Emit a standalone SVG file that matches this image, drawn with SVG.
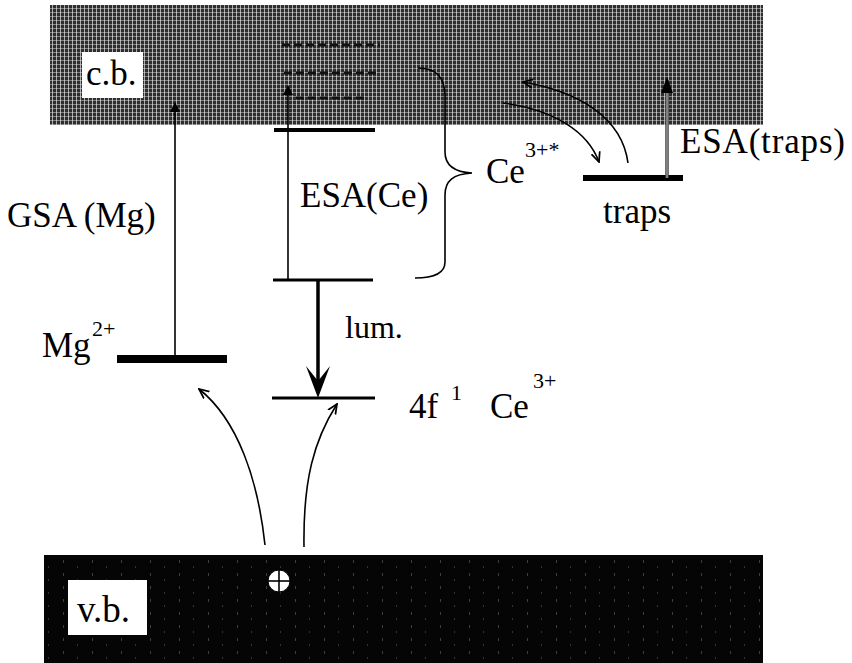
<svg xmlns="http://www.w3.org/2000/svg" width="852" height="663" viewBox="0 0 852 663">
<defs>
<pattern id="cbTex" width="4" height="4" patternUnits="userSpaceOnUse">
<rect width="4" height="4" fill="#2e2e2e"/>
<rect x="0" y="0" width="1" height="4" fill="#ffffff" opacity="0.6"/>
<rect x="0" y="0" width="4" height="1" fill="#ffffff" opacity="0.4"/>
</pattern>
<pattern id="vbTex" width="29" height="13" patternUnits="userSpaceOnUse">
<rect width="29" height="13" fill="#050505"/>
<rect x="5" y="1" width="1" height="3" fill="#777" opacity="0.5"/>
<rect x="19" y="7" width="1" height="2" fill="#777" opacity="0.4"/>
</pattern>
<marker id="solidHead" viewBox="0 0 10 10" refX="9" refY="5" markerWidth="10" markerHeight="10" markerUnits="userSpaceOnUse" orient="auto">
<path d="M0,0 L10,5 L0,10 Z" fill="#000"/>
</marker>
<marker id="openHead" viewBox="0 0 10 10" refX="9" refY="5" markerWidth="11" markerHeight="11" markerUnits="userSpaceOnUse" orient="auto">
<path d="M0,1 L9,5 L0,9" fill="none" stroke="#000" stroke-width="1.6"/>
</marker>
</defs>
<style>
text { font-family: "Liberation Serif", Tinos, "Times New Roman", Times, "Nimbus Roman", FreeSerif, "DejaVu Serif", serif; fill: #000; }
.lbl { font-size: 35px; }
.sup { font-size: 22px; }
.lvl { stroke: #000; fill: none; }
.thin { stroke: #000; stroke-width: 1.6; fill: none; }
.dash { stroke: #111; stroke-width: 3; stroke-dasharray: 8 4; fill: none; }
</style>

<g id="conduction-band">
<rect x="50" y="5" width="713" height="120" fill="url(#cbTex)"/>
<rect x="82" y="52" width="61" height="46" fill="#fff"/>
<text x="86" y="85" class="lbl">c.b.</text>
</g>

<g id="valence-band">
<rect x="44" y="555" width="719" height="108" fill="url(#vbTex)"/>
<rect x="68" y="580" width="79" height="55" fill="#fff"/>
<text x="77" y="622" class="lbl" style="font-size:37px">v.b.</text>
</g>

<g id="hole">
<circle cx="279" cy="581" r="11" fill="#fff" stroke="#000" stroke-width="1"/>
<line x1="279" y1="570" x2="279" y2="592" stroke="#000" stroke-width="1.6"/>
<line x1="268" y1="581" x2="290" y2="581" stroke="#000" stroke-width="1.6"/>
</g>

<g id="ce-dashed-levels">
<line x1="282" y1="45" x2="380" y2="45" class="dash"/>
<line x1="284" y1="73" x2="376" y2="73" class="dash"/>
<line x1="296" y1="98" x2="368" y2="98" class="dash"/>
</g>

<g id="mg-level">
<line x1="117" y1="359" x2="227" y2="359" class="lvl" stroke-width="8"/>
<text x="42" y="357" class="lbl">Mg</text>
<text x="92" y="336" class="sup">2+</text>
</g>

<g id="ce-upper-level">
<line x1="274" y1="130" x2="375" y2="130" class="lvl" stroke-width="4"/>
</g>

<g id="ce-excited-level">
<line x1="273" y1="280" x2="373" y2="280" class="lvl" stroke-width="3"/>
</g>

<g id="ce-ground-level">
<line x1="272" y1="398" x2="375" y2="398" class="lvl" stroke-width="3"/>
<text x="409" y="418" class="lbl">4f</text>
<text x="451" y="400" class="sup">1</text>
<text x="490" y="418" class="lbl">Ce</text>
<text x="533" y="388" class="sup">3+</text>
</g>

<g id="traps-level">
<line x1="583" y1="178" x2="683" y2="178" class="lvl" stroke-width="6"/>
<text x="603" y="223" class="lbl">traps</text>
</g>

<g id="ce-star-label">
<path d="M418,68 C437,68 445,78 445,96 L445,152 C445,165 453,172 472,173 C453,174 445,181 445,195 L445,262 C445,273 434,278 415,278" class="thin"/>
<text x="486" y="183" class="lbl">Ce</text>
<text x="525" y="157" class="sup">3+*</text>
</g>

<g id="connectors">
<line x1="175" y1="359" x2="175" y2="103" class="thin" marker-end="url(#solidHead)"/>
<line x1="288" y1="280" x2="288" y2="86" class="thin" marker-end="url(#solidHead)"/>
<line x1="318" y1="280" x2="318" y2="385" stroke="#000" stroke-width="3.5"/>
<path d="M318,398 L306,366 L318,381 L330,366 Z" fill="#000"/>
<line x1="667" y1="178" x2="667" y2="80" stroke="#444" stroke-width="3.5"/>
<line x1="667" y1="178" x2="667" y2="92" stroke="#bbb" stroke-width="1"/>
<path d="M667,77 L661,93 L673,93 Z" fill="#000"/>
<path d="M265,545 C258,480 238,420 199,389" class="thin" marker-end="url(#openHead)"/>
<path d="M304,547 C303,480 314,440 337,404" class="thin" marker-end="url(#openHead)"/>
<path d="M503,103 C555,110 588,132 599,162" class="thin" marker-end="url(#openHead)"/>
<path d="M628,163 C622,118 580,92 523,82" class="thin" marker-end="url(#openHead)"/>
</g>

<g id="labels">
<text x="7" y="227" class="lbl">GSA (Mg)</text>
<text x="300" y="207" class="lbl">ESA(Ce)</text>
<text x="345" y="338" class="lbl" style="font-size:32px">lum.</text>
<text x="680" y="153" class="lbl" textLength="165">ESA(traps)</text>
</g>
</svg>
